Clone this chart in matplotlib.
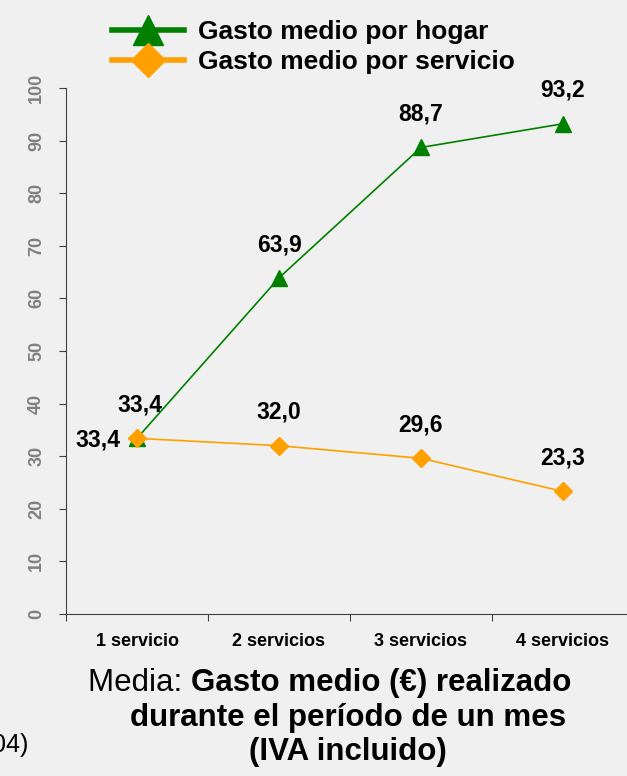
import matplotlib.pyplot as plt

plt.rcParams['font.family'] = ['Liberation Sans', 'DejaVu Sans']

categorias = ["1 servicio", "2 servicios", "3 servicios", "4 servicios"]
gasto_hogar = [33.4, 63.9, 88.7, 93.2]
gasto_servicio = [33.4, 32.0, 29.6, 23.3]
etiquetas_hogar = ["33,4", "63,9", "88,7", "93,2"]
etiquetas_servicio = ["33,4", "32,0", "29,6", "23,3"]
ticks_y = [0, 10, 20, 30, 40, 50, 60, 70, 80, 90, 100]

W, H = 627, 776
BG = "#f0f0f0"
VERDE = "#008000"
NARANJA = "#ffa000"

fig = plt.figure(figsize=(W / 100, H / 100), dpi=100, facecolor=BG)
ax = fig.add_axes([66 / W, 162 / H, (634 - 66) / W, (614 - 88) / H])
ax.set_facecolor(BG)

x = list(range(len(categorias)))
l1, = ax.plot(x, gasto_hogar, color=VERDE, lw=1.2, marker="^", ms=11,
              markeredgecolor=VERDE, clip_on=False, zorder=3)
l2, = ax.plot(x, gasto_servicio, color=NARANJA, lw=1.2, marker="D", ms=9,
              markeredgecolor=NARANJA, clip_on=False, zorder=4)

ax.set_xlim(-0.5, 3.5)
ax.set_ylim(0, 100)
ax.set_xticks([-0.5, 0.5, 1.5, 2.5, 3.5])
ax.set_xticklabels([])
ax.set_xticks(x, minor=True)
ax.set_xticklabels(categorias, minor=True, fontsize=13, fontweight="bold")
ax.tick_params(axis="x", which="minor", length=0, pad=14)
ax.tick_params(axis="x", which="major", length=5, direction="out", color="#404040")
ax.set_yticks(ticks_y)
ax.set_yticklabels([str(t) for t in ticks_y], rotation=90, va="center",
                   fontsize=13, fontweight="bold", color="#808080")
ax.tick_params(axis="y", length=5, direction="out", color="#404040", pad=10)
for s in ["top", "right"]:
    ax.spines[s].set_visible(False)
for s in ["left", "bottom"]:
    ax.spines[s].set_color("#404040")

fs = 16.5
for i, (v, t) in enumerate(zip(gasto_hogar, etiquetas_hogar)):
    if i == 0:
        ax.annotate(t, (i, v), xytext=(-28, -1), textcoords="offset points",
                    ha="center", va="center", fontsize=fs, fontweight="bold")
    else:
        ax.annotate(t, (i, v), xytext=(0, 24), textcoords="offset points",
                    ha="center", va="center", fontsize=fs, fontweight="bold")
for i, (v, t) in enumerate(zip(gasto_servicio, etiquetas_servicio)):
    dx = 2 if i == 0 else 0
    ax.annotate(t, (i, v), xytext=(dx, 24), textcoords="offset points",
                ha="center", va="center", fontsize=fs, fontweight="bold")

fig.legend([l1, l2], ["Gasto medio por hogar", "Gasto medio por servicio"],
           loc="upper left", bbox_to_anchor=(88 / W, 1 + 4 / H),
           frameon=False, prop={"size": 19, "weight": "bold"},
           handlelength=2.75, handletextpad=0.5, labelspacing=0.25,
           markerscale=1.9)
for h in fig.legends[0].legend_handles:
    h.set_linewidth(4)

tfs = 22.5
t1 = fig.text(88 / W, 1 - 683 / H, "Media: ", fontsize=tfs, va="center", ha="left")
ax.annotate("Gasto medio (€) realizado", xy=(1, 0.5), xycoords=t1,
            va="center", ha="left", fontsize=tfs, fontweight="bold")
fig.text(348 / W, 1 - 718 / H, "durante el período de un mes", fontsize=tfs,
         fontweight="bold", ha="center", va="center")
fig.text(348 / W, 1 - 752 / H, "(IVA incluido)", fontsize=tfs,
         fontweight="bold", ha="center", va="center")
fig.text(28 / W, 1 - 745 / H, "04)", fontsize=18, ha="right", va="center")

fig.savefig("out.png", dpi=100, facecolor=BG)
